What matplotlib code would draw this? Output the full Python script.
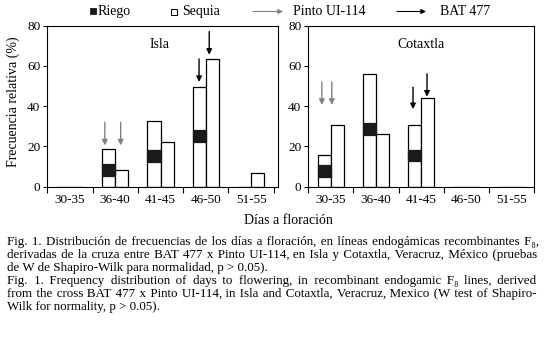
import numpy as np
import matplotlib
matplotlib.use("Agg")
import matplotlib.pyplot as plt
from matplotlib.patches import Rectangle, FancyArrowPatch

plt.rcParams['font.family'] = ['Liberation Serif', 'DejaVu Serif']

# ---------------- data ----------------
categories = ['30-35', '36-40', '41-45', '46-50', '51-55']
y_ticks = [0, 20, 40, 60, 80]

isla_riego = [0, 18.5, 32.5, 49.3, 0]
isla_band_lo = [np.nan, 5.3, 12.2, 22.4, np.nan]
isla_band_hi = [np.nan, 11.3, 18.2, 28.2, np.nan]
isla_sequia = [0, 8.2, 22.0, 63.2, 6.6]

cot_riego = [15.5, 55.8, 30.5, 0, 0]
cot_band_lo = [5.0, 25.7, 12.8, np.nan, np.nan]
cot_band_hi = [10.8, 31.5, 18.2, np.nan, np.nan]
cot_sequia = [30.5, 26.4, 44.0, 0, 0]

# arrows: (category index, offset, tail value, head value)
isla_pinto_arrows = [(1, -0.23, 32.0, 20.5), (1, 0.12, 32.0, 20.5)]
isla_bat_arrows = [(3, -0.15, 63.4, 52.0), (3, 0.075, 77.0, 65.5)]
cot_pinto_arrows = [(0, -0.2, 52.0, 40.6), (0, 0.02, 52.0, 40.6)]
cot_bat_arrows = [(2, -0.18, 49.4, 38.5), (2, 0.13, 56.0, 44.7)]

caption_es = [
    "Fig. 1. Distribución de frecuencias de los días a floración, en líneas endogámicas recombinantes F\u2088,",
    "derivadas de la cruza entre BAT 477 x Pinto UI-114, en Isla y Cotaxtla, Veracruz, México (pruebas",
    "de W de Shapiro-Wilk para normalidad, p > 0.05).",
]
caption_en = [
    "Fig. 1. Frequency distribution of days to flowering, in recombinant endogamic F\u2088 lines, derived",
    "from the cross BAT 477 x Pinto UI-114, in Isla and Cotaxtla, Veracruz, Mexico (W test of Shapiro-",
    "Wilk for normality, p > 0.05).",
]

# ---------------- layout ----------------
W, H = 544, 337
fig = plt.figure(figsize=(W / 100, H / 100), dpi=100)

def fx(x):
    return x / W

def fy(y):
    return 1 - y / H

GRAY = '#808080'
BLACK = '#1a1a1a'
BW = 0.29

def panel(rect, xlim, riego, blo, bhi, sequia, pinto_arr, bat_arr, title, title_xy):
    l, t, r, b = rect
    ax = fig.add_axes([fx(l), fy(b), (r - l) / W, (b - t) / H])
    x = np.arange(len(categories))
    ax.bar(x - BW / 2, riego, width=BW, facecolor='white', edgecolor='black', lw=0.9, zorder=2)
    lo = np.array(blo, dtype=float)
    hi = np.array(bhi, dtype=float)
    m = ~np.isnan(lo)
    ax.bar((x - BW / 2)[m], (hi - lo)[m], bottom=lo[m], width=BW, facecolor=BLACK,
           edgecolor=BLACK, lw=0.9, zorder=3)
    ax.bar(x + BW / 2, sequia, width=BW, facecolor='white', edgecolor='black', lw=0.9, zorder=2)
    for arrs, col in ((pinto_arr, GRAY), (bat_arr, 'black')):
        for ci, off, tail, head in arrs:
            ax.annotate('', xy=(ci + off, head), xytext=(ci + off, tail),
                        arrowprops=dict(arrowstyle='-|>', color=col, lw=1.0,
                                        mutation_scale=8, shrinkA=0, shrinkB=0),
                        zorder=4)
    ax.set_xlim(*xlim)
    ax.set_ylim(0, 80)
    ax.set_xticks(np.arange(len(categories) + 1) - 0.5)
    ax.set_xticklabels([])
    ax.set_xticks(x, minor=True)
    ax.set_xticklabels(categories, minor=True, fontsize=9.5)
    ax.tick_params(axis='x', which='major', length=4, width=0.8, direction='out')
    ax.tick_params(axis='x', which='minor', length=0, pad=5)
    ax.set_yticks(y_ticks)
    ax.set_yticklabels([str(v) for v in y_ticks], fontsize=9.5)
    ax.tick_params(axis='y', length=3, width=0.8, direction='out', pad=2)
    for s in ax.spines.values():
        s.set_linewidth(0.8)
    fig.text(fx(title_xy[0]), fy(title_xy[1]), title, fontsize=10, ha='center', va='center')
    return ax

ax1 = panel((47.3, 25.5, 278, 186.7), (-0.5, 4.593), isla_riego, isla_band_lo, isla_band_hi,
            isla_sequia, isla_pinto_arrows, isla_bat_arrows, 'Isla', (160, 44))
ax2 = panel((308.3, 25.5, 534, 186.7), (-0.5, 4.5), cot_riego, cot_band_lo, cot_band_hi,
            cot_sequia, cot_pinto_arrows, cot_bat_arrows, 'Cotaxtla', (421, 44))

fig.text(fx(13), fy(102), 'Frecuencia relativa (%)', rotation=90, fontsize=10,
         ha='center', va='center')
fig.text(fx(288), fy(220), 'Días a floración', fontsize=10, ha='center', va='center')

# ---------------- legend ----------------
fig.patches.append(Rectangle((fx(90), fy(14)), 6.5 / W, 6.5 / H, transform=fig.transFigure,
                             facecolor=BLACK, edgecolor=BLACK, lw=0.6))
fig.text(fx(97.5), fy(15), 'Riego', fontsize=10, va='baseline')
fig.patches.append(Rectangle((fx(171), fy(14.5)), 6 / W, 6 / H, transform=fig.transFigure,
                             facecolor='white', edgecolor='black', lw=0.7))
fig.text(fx(182.5), fy(15), 'Sequia', fontsize=10, va='baseline')
fig.text(fx(293), fy(15), 'Pinto UI-114', fontsize=10, va='baseline')
fig.text(fx(440), fy(15), 'BAT 477', fontsize=10, va='baseline')
for x0, x1, col in ((253, 283, GRAY), (397, 426, 'black')):
    fig.add_artist(FancyArrowPatch(
        (fx(x0), fy(11.5)), (fx(x1), fy(11.5)), transform=fig.transFigure,
        arrowstyle='-|>', mutation_scale=7, color=col, lw=0.8, shrinkA=0, shrinkB=0))

# ---------------- caption (justified with fine spaces) ----------------
X0, X1 = 7, 537
renderer = fig.canvas.get_renderer()
lines = caption_es + caption_en
last = {2, 5}

def text_width(s, fs):
    t = fig.text(0, 0, s, fontsize=fs)
    w = t.get_window_extent(renderer).width
    t.remove()
    return w

# largest size (up to 9.8 pt) at which every justified line fits naturally
CAP_FS = 9.8
while CAP_FS > 8 and max(text_width(ln, CAP_FS) for i, ln in enumerate(lines)
                         if i not in last) > (X1 - X0) - 3:
    CAP_FS -= 0.1

base_w = text_width('xx', CAP_FS)
FILL, FILL_W = None, 0
for cand in ('\u200a', '\u2009', '\u2006'):
    h = (text_width('x' + cand * 10 + 'x', CAP_FS) - base_w) / 10
    if h > 0.3:
        FILL, FILL_W = cand, h
        break

def draw_line(text, baseline, justify):
    t = fig.text(fx(X0), fy(baseline), text, fontsize=CAP_FS, va='baseline')
    if not justify or FILL is None:
        return
    words = text.split(' ')
    gaps = len(words) - 1
    nat = t.get_window_extent(renderer).width
    extra = (X1 - X0) - nat
    if extra <= 0 or gaps == 0:
        return
    K = int(extra / FILL_W)
    out = words[0]
    for i, wd in enumerate(words[1:]):
        cnt = K // gaps + (1 if (i * 7) % gaps < K % gaps else 0)
        out += ' ' + FILL * cnt + wd
    t.set_text(out)

baselines = [245, 258, 271, 284, 297, 310]
for i, (ln, bl) in enumerate(zip(lines, baselines)):
    draw_line(ln, bl, i not in last)

fig.savefig('out.png', dpi=100)
